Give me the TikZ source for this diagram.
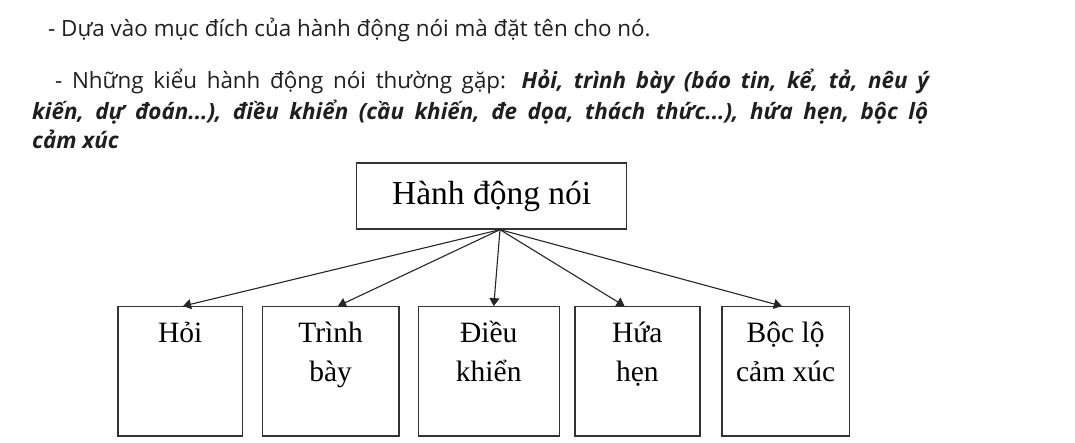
\documentclass[tikz,border=0pt]{standalone}
\usepackage{fontspec}
\usepackage{tikz}
\usetikzlibrary{positioning, calc, arrows.meta}

\newfontfamily\notefont{Open Sans}
\newfontfamily\boxfont{Liberation Serif}

\begin{document}
\begin{tikzpicture}[x=1pt, y=-1pt,
    noteline/.style={font=\notefont\fontsize{22.4}{29}\selectfont, anchor=base west, inner sep=0pt, text=black!88},
    box/.style={draw=black!80, line width=1.3pt, minimum height=129.3pt, inner sep=0pt},
    boxtext/.style={font=\boxfont\fontsize{29.5}{39}\selectfont, align=center, anchor=base, inner sep=0pt},
    twolines/.style={yshift=-39pt},
    arrow/.style={-{Triangle[width=10pt,length=8pt]}, line width=1.1pt, draw=black!85}]
        % the page
        \useasboundingbox[fill=white] (0,0) rectangle (1075,443);

        % the text above
        \node[noteline] (l1) at (48,37) {- Dựa vào mục đích của hành động nói mà đặt tên cho nó.};
        \node[noteline] (l2) at (55,89) {\makebox[875pt][s]{- Những kiểu hành động nói thường gặp: \textbf{\textit{Hỏi, trình bày (báo tin, kể, tả, nêu ý}}}};
        \node[noteline] (l3) at (32,120) {\makebox[896pt][s]{\textbf{\textit{kiến, dự đoán...), điều khiển (cầu khiến, đe dọa, thách thức...), hứa hẹn, bộc lộ}}}};
        \node[noteline] (l4) at (32,149) {\textbf{\textit{cảm xúc}}};

        % the top box
        \node[draw=black!80, line width=1.3pt, minimum width=270pt, minimum height=66pt, inner sep=0pt,
              font=\boxfont\fontsize{33.5}{39}\selectfont] (hanh) at (491.7,196) {Hành động nói};
        \coordinate (src) at ([xshift=8.3pt]hanh.south);

        % the five boxes
        \node[box, minimum width=124.7pt] (hoi) at (180.3,371.4) {};
        \node[box, minimum width=136.7pt, right=18.3pt of hoi] (trinhbay) {};
        \node[box, minimum width=141pt, right=18pt of trinhbay] (dieukhien) {};
        \node[box, minimum width=125pt, right=14.3pt of dieukhien] (hua) {};
        \node[box, minimum width=127.6pt, right=20.7pt of hua] (bocLo) {};

        \node[boxtext] (thoi) at ([yshift=-36pt]hoi.north) {Hỏi};
        \node[boxtext, twolines] (ttrinh) at ([yshift=-36pt]trinhbay.north) {Trình\\bày};
        \node[boxtext, twolines] (tdieu) at ([yshift=-36pt]dieukhien.north) {Điều\\khiển};
        \node[boxtext, twolines] (thua) at ([yshift=-36pt]hua.north) {Hứa\\hẹn};
        \node[boxtext, twolines] (tboc) at ([yshift=-36pt]bocLo.north) {Bộc lộ\\cảm xúc};

        % the arrows
        \draw[arrow] (src) -- ([xshift=2.7pt]hoi.north);
        \draw[arrow] (src) -- ([xshift=7.4pt]trinhbay.north);
        \draw[arrow] (src) -- ([xshift=5pt]dieukhien.north);
        \draw[arrow] (src) -- ([xshift=-12.8pt]hua.north);
        \draw[arrow] (src) -- ([xshift=-3.8pt]bocLo.north);
    \end{tikzpicture}
\end{document}
